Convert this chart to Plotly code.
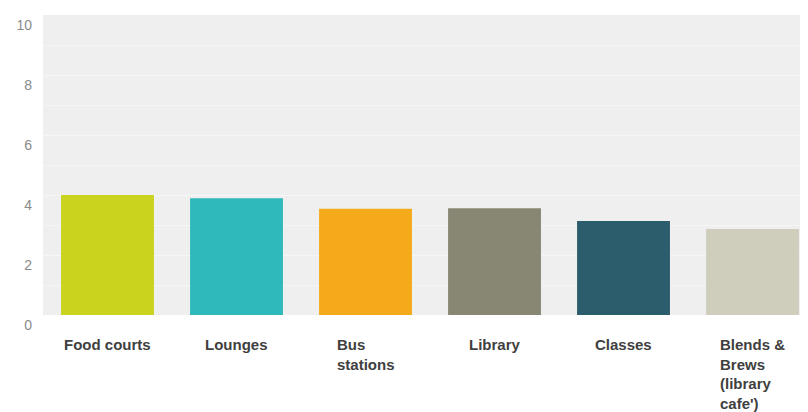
import plotly.graph_objects as go

categories = ["Food courts", "Lounges", "Bus stations", "Library", "Classes", "Blends & Brews (library cafe')"]
tick_text = ["Food courts", "Lounges", "Bus<br>stations", "Library", "Classes", "Blends &<br>Brews<br>(library<br>cafe')"]
values = [4.0, 3.89, 3.54, 3.56, 3.13, 2.87]
colors = ["#cad31d", "#30b9bb", "#f5aa1c", "#888774", "#2c5d6c", "#cfcdbc"]
y_ticks = [0, 2, 4, 6, 8, 10]

fig = go.Figure(go.Bar(
    x=list(range(len(categories))),
    y=values,
    marker=dict(color=colors, line=dict(width=0)),
    width=0.72,
    hovertext=categories,
))

for i, label in enumerate(tick_text):
    fig.add_annotation(
        x=i, y=0, xref="x", yref="y", text="<b>" + label.replace("<br>", "</b><br><b>") + "</b>",
        showarrow=False,
        xanchor="center", yanchor="top", align="left", yshift=-19,
        font=dict(family="Liberation Sans, Arial", size=15, color="#404040"),
    )

fig.update_layout(
    width=808, height=412,
    margin=dict(l=35, r=8, t=7, b=105),
    paper_bgcolor="white",
    plot_bgcolor="#efefef",
    showlegend=False,
    xaxis=dict(range=[-0.5, 5.43], showticklabels=False, showgrid=False,
               zeroline=False, fixedrange=True),
    yaxis=dict(range=[0, 10], tickvals=y_ticks, ticktext=[str(v) for v in y_ticks],
               ticklabelposition="outside bottom", ticklabelstandoff=10,
               tickfont=dict(family="Liberation Sans, Arial", size=14, color="#8a8a8a"),
               showgrid=True, gridcolor="#f6f6f6", gridwidth=1,
               minor=dict(dtick=1, showgrid=True, gridcolor="#f5f5f5", gridwidth=1),
               zeroline=False, showline=False),
)

fig.write_html("out.html")
